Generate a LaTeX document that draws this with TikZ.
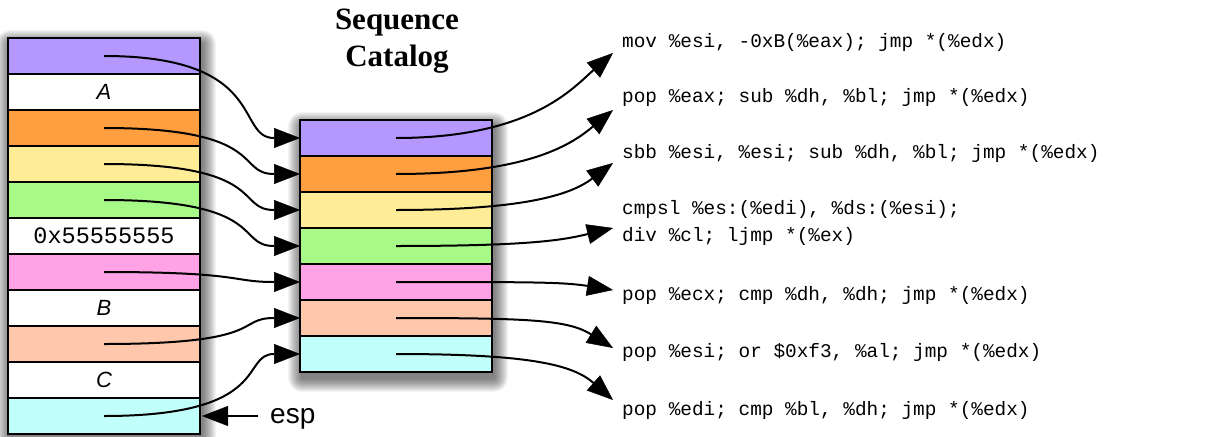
\documentclass[tikz,border=0pt]{standalone}
\usepackage{fontspec}
\setmainfont{Liberation Serif}
\newfontfamily\helv{Liberation Sans}
\newfontfamily\cour{Liberation Mono}
\usetikzlibrary{arrows.meta}
\definecolor{cpurple}{RGB}{180,151,255}
\definecolor{corange}{RGB}{255,159,63}
\definecolor{cyellow}{RGB}{255,236,150}
\definecolor{cgreen}{RGB}{168,250,136}
\definecolor{cpink}{RGB}{255,163,230}
\definecolor{csalmon}{RGB}{255,200,172}
\definecolor{ccyan}{RGB}{192,255,250}
\begin{document}
\begin{tikzpicture}[x=1pt,y=-1pt,
  cell/.style={draw=black, line width=2pt, minimum width=192pt, minimum height=36pt, inner sep=0pt, outer sep=0pt},
  conn/.style={draw=black, line width=2pt, -{Triangle[length=26pt,width=20pt,fill=black,line width=0.5pt]}},
  code/.style={font=\cour\fontsize{19.4}{27}\selectfont, anchor=west, inner sep=0pt, align=left},
  lab/.style={font=\helv\itshape\fontsize{22}{26}\selectfont},
  shadowlayer/.style={fill=black, fill opacity=0.045}]
\useasboundingbox[fill=white] (0,0) rectangle (1222,436);
% shadows (soft, built from stacked translucent layers)
\foreach \r in {1,...,14}{
  \fill[shadowlayer, rounded corners=\r pt] (10-\r,44-\r) rectangle (202+\r,440+\r);
  \fill[shadowlayer, rounded corners=\r pt] (302-\r,126-\r) rectangle (494+\r,378+\r);
}
% title
\node[font=\bfseries\fontsize{31}{37}\selectfont, align=center, inner sep=0pt] (title) at (397,41) {Sequence\\Catalog};
% left stack
\node[cell, fill=cpurple] (L1) at (104,56) {};
\node[cell, fill=white, lab] (L2) at (104,92) {A};
\node[cell, fill=corange] (L3) at (104,128) {};
\node[cell, fill=cyellow] (L4) at (104,164) {};
\node[cell, fill=cgreen] (L5) at (104,200) {};
\node[cell, fill=white, font=\cour\fontsize{23.5}{26}\selectfont] (L6) at (104,236) {0x55555555};
\node[cell, fill=cpink] (L7) at (104,272) {};
\node[cell, fill=white, lab] (L8) at (104,308) {B};
\node[cell, fill=csalmon] (L9) at (104,344) {};
\node[cell, fill=white, lab] (L10) at (104,380) {C};
\node[cell, fill=ccyan] (L11) at (104,416) {};
% middle stack
\node[cell, fill=cpurple] (M1) at (396,138) {};
\node[cell, fill=corange] (M2) at (396,174) {};
\node[cell, fill=cyellow] (M3) at (396,210) {};
\node[cell, fill=cgreen] (M4) at (396,246) {};
\node[cell, fill=cpink] (M5) at (396,282) {};
\node[cell, fill=csalmon] (M6) at (396,318) {};
\node[cell, fill=ccyan] (M7) at (396,354) {};
% code texts
\node[code] (c1) at (622,42) {mov \%esi, -0xB(\%eax); jmp *(\%edx)};
\node[code] (c2) at (622,97) {pop \%eax; sub \%dh, \%bl; jmp *(\%edx)};
\node[code] (c3) at (622,153) {sbb \%esi, \%esi; sub \%dh, \%bl; jmp *(\%edx)};
\node[code] (c4) at (622,222.5) {cmpsl \%es:(\%edi), \%ds:(\%esi);\\div \%cl; ljmp *(\%ex)};
\node[code] (c5) at (622,295) {pop \%ecx; cmp \%dh, \%dh; jmp *(\%edx)};
\node[code] (c6) at (622,352) {pop \%esi; or \$0xf3, \%al; jmp *(\%edx)};
\node[code] (c7) at (622,410) {pop \%edi; cmp \%bl, \%dh; jmp *(\%edx)};
% arrow tips near code
\coordinate (t1) at (613,53);
\coordinate (t2) at (613,110);
\coordinate (t3) at (613,163);
\coordinate (t4) at (613,228);
\coordinate (t5) at (613,290);
\coordinate (t6) at (613,348);
\coordinate (t7) at (613,400);
% esp
\node[font=\helv\fontsize{28}{32}\selectfont, anchor=base west, inner sep=0pt] (esp) at (270,423) {esp};
% left connectors
\draw[conn] (L1.center) .. controls +(165,0) and +(-65,0) .. (M1.west);
\draw[conn] (L3.center) .. controls +(165,0) and +(-65,0) .. (M2.west);
\draw[conn] (L4.center) .. controls +(165,0) and +(-65,0) .. (M3.west);
\draw[conn] (L5.center) .. controls +(165,0) and +(-65,0) .. (M4.west);
\draw[conn] (L7.center) .. controls +(140,0) and +(-70,0) .. (M5.west);
\draw[conn] (L9.center) .. controls +(165,0) and +(-65,0) .. (M6.west);
\draw[conn] (L11.center) .. controls +(170,0) and +(-60,0) .. (M7.west);
% right connectors
\draw[conn] (M1.center) .. controls +(135,0) and +(-40,35) .. (t1);
\draw[conn] (M2.center) .. controls +(135,0) and +(-40,33) .. (t2);
\draw[conn] (M3.center) .. controls +(135,0) and +(-40,30) .. (t3);
\draw[conn] (M4.center) .. controls +(135,0) and +(-50,12) .. (t4);
\draw[conn] (M5.center) .. controls +(135,0) and +(-50,-8) .. (t5);
\draw[conn] (M6.center) .. controls +(135,0) and +(-45,-28) .. (t6);
\draw[conn] (M7.center) .. controls +(135,0) and +(-40,-35) .. (t7);
% esp arrow
\draw[conn] ([xshift=-12pt]esp.west |- L11.east) -- ([xshift=2pt]L11.east);
\end{tikzpicture}
\end{document}
